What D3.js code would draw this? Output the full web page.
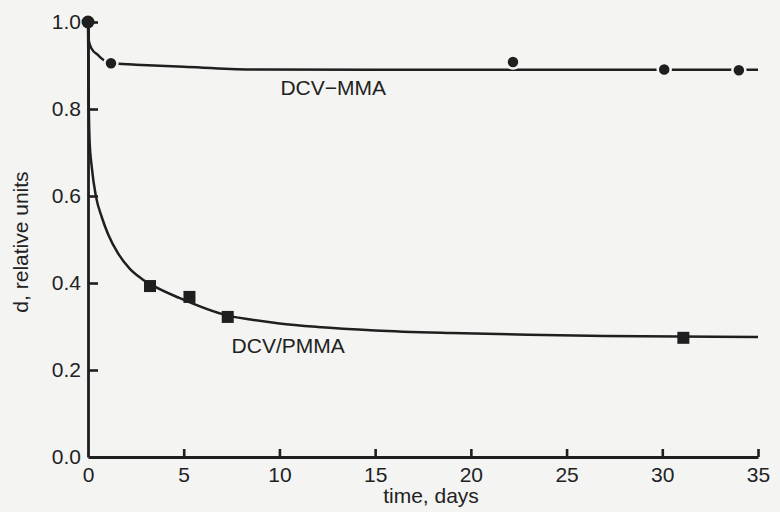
<!DOCTYPE html>
<html>
<head>
<meta charset="utf-8">
<script src="https://cdn.jsdelivr.net/npm/d3@7"></script>
<style>
  body { margin: 0; background: #f4f4f3; }
  svg { display: block; }
  text { font-family: "Liberation Sans", Arial, sans-serif; fill: #222; }
</style>
</head>
<body>
<svg width="780" height="512"></svg>
<script>
const mmaCurveX = [0, 0.05, 0.2, 0.5, 0.8, 1.2, 2.5, 5, 8.5, 15, 22, 30, 35];
const mmaCurveY = [1.0, 0.955, 0.938, 0.925, 0.913, 0.905, 0.902, 0.897, 0.891, 0.89, 0.89, 0.89, 0.89];
const mmaPointX = [0, 1.2, 22.2, 30.1, 34.0];
const mmaPointY = [1.0, 0.905, 0.908, 0.891, 0.889];

const pmmaCurveX = [0, 0.03, 0.08, 0.2, 0.42, 0.73, 1.05, 1.57, 2.2, 2.8, 3.35, 4.8, 7.3, 8.5, 10, 12, 15, 19, 23, 27, 35];
const pmmaCurveY = [1.0, 0.85, 0.73, 0.665, 0.598, 0.55, 0.512, 0.468, 0.432, 0.41, 0.395, 0.365, 0.325, 0.316, 0.307, 0.299, 0.291, 0.285, 0.281, 0.278, 0.276];
const pmmaPointX = [3.24, 5.3, 7.3, 31.1];
const pmmaPointY = [0.393, 0.368, 0.322, 0.274];

const xTicks = [0, 5, 10, 15, 20, 25, 30, 35];
const yTicks = [0.0, 0.2, 0.4, 0.6, 0.8, 1.0];

const svg = d3.select("svg");
const ink = '#1f1f1f';
const bg = '#f4f4f3';

const xScale = d3.scaleLinear().domain([0, 35]).range([88, 758]);
const yScale = d3.scaleLinear().domain([0, 1]).range([457, 22]);

const zip = (xs, ys) => xs.map((x, i) => ({ x: x, y: ys[i] }));

const line = d3.line()
  .x(d => xScale(d.x))
  .y(d => yScale(d.y))
  .curve(d3.curveMonotoneX);

// axes, ticks pointing inward
const xAxis = d3.axisBottom(xScale)
  .tickValues(xTicks)
  .tickFormat(d3.format('d'))
  .tickSizeInner(-8)
  .tickSizeOuter(0)
  .tickPadding(10);

const yAxis = d3.axisLeft(yScale)
  .tickValues(yTicks)
  .tickFormat(d3.format('.1f'))
  .tickSizeInner(-10)
  .tickSizeOuter(0)
  .tickPadding(7);

const xAxisG = svg.append('g')
  .attr('transform', `translate(0,${yScale(0)})`)
  .call(xAxis);

const yAxisG = svg.append('g')
  .attr('transform', `translate(${xScale(0)},0)`)
  .call(yAxis);

[xAxisG, yAxisG].forEach(g => {
  g.attr('font-size', null).attr('font-family', null);
  g.selectAll('.domain').attr('stroke', ink).attr('stroke-width', 2.8);
  g.selectAll('.tick line').attr('stroke', ink).attr('stroke-width', 2.6);
  g.selectAll('.tick text').attr('font-size', 21).attr('fill', '#222');
});
xAxisG.selectAll('.tick line').filter(d => d === 0).remove();
yAxisG.selectAll('.tick line').filter(d => d === 0).remove();

// curves
svg.append('path')
  .datum(zip(mmaCurveX, mmaCurveY))
  .attr('d', line)
  .attr('fill', 'none')
  .attr('stroke', ink)
  .attr('stroke-width', 2.5);

svg.append('path')
  .datum(zip(pmmaCurveX, pmmaCurveY))
  .attr('d', line)
  .attr('fill', 'none')
  .attr('stroke', ink)
  .attr('stroke-width', 2.5);

// markers, with a thin halo so the line breaks around them
svg.append('g').selectAll('circle')
  .data(zip(mmaPointX, mmaPointY))
  .enter().append('circle')
    .attr('cx', d => xScale(d.x))
    .attr('cy', d => yScale(d.y))
    .attr('r', 6.5)
    .attr('fill', ink)
    .attr('stroke', (d, i) => i === 0 ? 'none' : bg)
    .attr('stroke-width', 2.5);

const sq = 12;
svg.append('g').selectAll('rect')
  .data(zip(pmmaPointX, pmmaPointY))
  .enter().append('rect')
    .attr('x', d => xScale(d.x) - sq / 2)
    .attr('y', d => yScale(d.y) - sq / 2)
    .attr('width', sq)
    .attr('height', sq)
    .attr('fill', ink);

// series labels
svg.append('text')
  .text('DCV\u2212MMA')
  .attr('x', xScale(10.05))
  .attr('y', yScale(0.832))
  .attr('font-size', 21);

svg.append('text')
  .text('DCV/PMMA')
  .attr('x', xScale(7.5))
  .attr('y', yScale(0.239))
  .attr('font-size', 21);

// axis titles
svg.append('text')
  .text('time, days')
  .attr('x', 431)
  .attr('y', 503)
  .attr('text-anchor', 'middle')
  .attr('font-size', 21);

svg.append('text')
  .text('d, relative units')
  .attr('transform', 'translate(28,242) rotate(-90)')
  .attr('text-anchor', 'middle')
  .attr('font-size', 21);
</script>
</body>
</html>
